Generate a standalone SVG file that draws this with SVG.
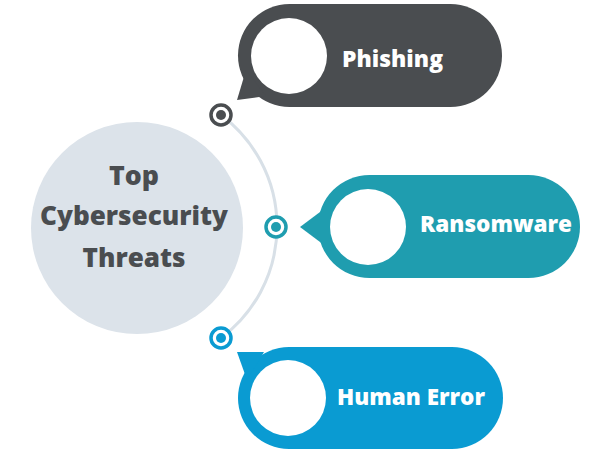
<svg xmlns="http://www.w3.org/2000/svg" width="600" height="450" viewBox="0 0 600 450">
<style>
.lbl{font-family:"Open Sans","Liberation Sans",sans-serif;font-weight:800;fill:#fff;font-size:22px}
.ctr{font-family:"Open Sans","Liberation Sans",sans-serif;font-weight:800;fill:#4a4d50;font-size:26px;text-anchor:middle}
.hole{fill:#fff}
.ring{fill:#fff;stroke-width:3.5}
</style>
<rect width="600" height="450" fill="#fff"/>
<g id="connectors">
<path d="M221,115 A139,139 0 0 1 221,338" fill="none" stroke="#d8e0e7" stroke-width="3"/>
</g>
<g id="center">
<circle cx="137" cy="228" r="106" fill="#dce3ea"/>
<text class="ctr" x="134" y="185" textLength="50" lengthAdjust="spacingAndGlyphs">Top</text>
<text class="ctr" x="134" y="225" textLength="188" lengthAdjust="spacingAndGlyphs">Cybersecurity</text>
<text class="ctr" x="134" y="267" textLength="103" lengthAdjust="spacingAndGlyphs">Threats</text>
</g>
<g id="dot-phishing">
<circle class="ring" cx="221" cy="115" r="10" stroke="#4a4d50"/>
<circle cx="221" cy="115" r="5" fill="#4a4d50"/>
</g>
<g id="dot-ransomware">
<circle class="ring" cx="276" cy="227" r="10" stroke="#1f9daf"/>
<circle cx="276" cy="227" r="5" fill="#1f9daf"/>
</g>
<g id="dot-human">
<circle class="ring" cx="221" cy="338" r="10" stroke="#0a9bd2"/>
<circle cx="221" cy="338" r="5" fill="#0a9bd2"/>
</g>
<g id="phishing">
<rect x="238" y="4" width="264" height="103" rx="51.5" fill="#4a4d50"/>
<polygon points="246,70 237,100 266,96" fill="#4a4d50"/>
<circle class="hole" cx="289" cy="56" r="38"/>
<text class="lbl" x="342" y="67" textLength="101" lengthAdjust="spacingAndGlyphs">Phishing</text>
</g>
<g id="ransomware">
<rect x="318" y="175" width="262" height="103" rx="51.5" fill="#1f9daf"/>
<polygon points="324,209 300,227 324,245" fill="#1f9daf"/>
<circle class="hole" cx="368" cy="227" r="38"/>
<text class="lbl" x="420" y="232" textLength="152" lengthAdjust="spacingAndGlyphs">Ransomware</text>
</g>
<g id="human-error">
<rect x="238" y="347" width="265" height="102" rx="51" fill="#0a9bd2"/>
<polygon points="237,352 264,352 247,380" fill="#0a9bd2"/>
<circle class="hole" cx="288" cy="398" r="38"/>
<text class="lbl" x="337" y="405" textLength="148" lengthAdjust="spacingAndGlyphs">Human Error</text>
</g>
</svg>
